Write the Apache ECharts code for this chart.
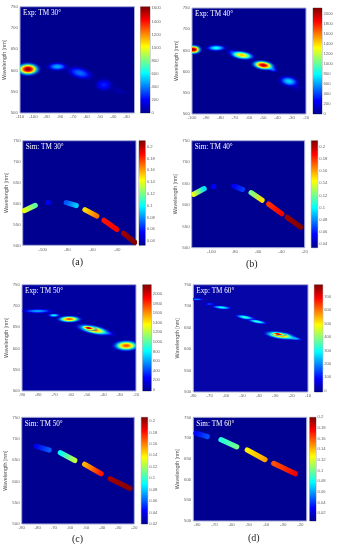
<!DOCTYPE html>
<html><head><meta charset="utf-8">
<style>html,body{margin:0;padding:0;background:#fff}#c{width:337px;height:550px;filter:blur(0.55px)}</style>
<script src="https://cdn.jsdelivr.net/npm/echarts@6/dist/echarts.min.js"></script>
</head><body><div id="c"></div>
<script>
// Experimental peaks: angle, wavelength, peak, half-extent (deg), half-extent (nm), tilt (deg)
const expA = [[-36,552,50,9,10,15],[-47,566,250,9,20,0],[-65,594,380,13,18,15],[-82,609,480,10,13,0],[-104,603,1620,11,19,0]];
const expB = [[-28,566,110,8,12,25],[-32,577,720,9,16,10],[-83,655.7,820,9,10,0],[-71,645,450,6,8,15],[-65,638.6,1450,11,13,8],[-45,608,700,7,9,20],[-50,615,2000,10,14,8],[-99,652,2110,7,14,0]];
const expC = [[-80.4,688,620,12,7,0],[-70.4,678,800,5,6,0],[-61,669,1750,9,10,0],[-39,637,520,8,7,10],[-46,644,1700,13,13,12],[-49,648,2150,6,7,10],[-26,606.6,1750,10,16,0]];
const expD = [[-78,716,200,6,4,0],[-70,705,150,5,4,0],[-62.7,697,300,8,6,5],[-48.4,674,330,8,7,10],[-41,664,330,8,6,10],[-20,626,380,8,6,8],[-27,632,600,12,11,8],[-28.3,635,785,6,5,8]];
// Simulated bands: start angle, wavelength, value, end angle, wavelength, value
const simA = [[-114.7,582.8,.14,-105.9,595.5,.115],[-95.9,602,.05,-95.2,602.5,.05],[-81,602,.07,-73,595,.09],[-66,585,.15,-56.5,570,.168],[-50.7,559.7,.185,-40.5,538,.19],[-35,528.7,.205,-26,507,.21]];
const simB = [[-115.4,624.6,.14,-106.3,638,.095],[-98.4,643,.055,-98,643,.055],[-80.6,644,.055,-73.4,636,.065],[-66,628.5,.12,-56.6,611,.15],[-50.9,602,.18,-39.7,579.4,.19],[-35,571,.205,-23.4,548,.21]];
const simC = [[-81,682,.04,-73,673.4,.06],[-66,667,.09,-57,649,.125],[-50.9,640,.15,-40.6,618,.18],[-35,606,.2,-22.7,583.4,.205]];
const simD = [[-80.8,711.6,.03,-74.2,703.5,.045],[-66.2,696,.085,-57,679,.1],[-50.9,671,.13,-40.6,648,.145],[-35.5,639,.16,-23,614,.178]];
// Tick labels
const wavelengthTicks = [500,550,600,650,700,750];
const xTicksExpA = [-110,-100,-90,-80,-70,-60,-50,-40,-30];
const xTicksExpB = [-100,-90,-80,-70,-60,-50,-40,-30,-20];
const xTicksSimA = [-100,-80,-60,-40];
const xTicksSimB = [-100,-80,-60,-40,-20];
const xTicksExpC = [-90,-80,-70,-60,-50,-40,-30,-20];
const xTicksExpD = [-80,-70,-60,-50,-40,-30,-20,-10];
const xTicksSimD = [-80,-70,-60,-50,-40,-30,-20];
const cbExpA = [0,200,400,600,800,1000,1200,1400,1600];
const cbExpB = [0,200,400,600,800,1000,1200,1400,1600,1800,2000];
const cbExpD = [0,100,200,300,400,500,600,700];
const cbSimAB = [.04,.06,.08,.1,.12,.14,.16,.18,.2];
const cbSimCD = [.02,.04,.06,.08,.1,.12,.14,.16,.18,.2];
const captions = ['(a)','(b)','(c)','(d)'];

const panels = [
 {t:'Exp: TM 30°',d:expA,sim:0,g:[20,6.7,134.5,113],cb:[140.5,150],xr:[-110,-24],xt:xTicksExpA,vr:[0,1625],vt:cbExpA,bg:'#00008f'},
 {t:'Exp: TM 40°',d:expB,sim:0,g:[192,8,306,114],cb:[313,322],xr:[-100,-20],xt:xTicksExpB,vr:[0,2120],vt:cbExpB,bg:'#00008f'},
 {t:'Sim: TM 30°',d:simA,sim:1,g:[22.7,140.7,136,245.3],cb:[139,145.3],xr:[-116,-25],xt:xTicksSimA,vr:[.0327,.21],vt:cbSimAB,bg:'#000090'},
 {t:'Sim: TM 40°',d:simB,sim:1,g:[191.7,140.7,304.7,247.7],cb:[311.3,317.7],xr:[-117,-20],xt:xTicksSimB,vr:[.034,.21],vt:cbSimAB,bg:'#000090'},
 {t:'Exp: TM 50°',d:expC,sim:0,g:[22,284.7,136,391],cb:[142.7,151.3],xr:[-90,-20],xt:xTicksExpC,vr:[-30,2196],vt:cbExpB,bg:'#0000a0'},
 {t:'Exp: TM 60°',d:expD,sim:0,g:[193.3,284.7,308,392],cb:[314.3,322.7],xr:[-80,-10],xt:xTicksExpD,vr:[-10,790],vt:cbExpD,bg:'#0505a8'},
 {t:'Sim: TM 50°',d:simC,sim:1,g:[21.7,417.3,134.3,524],cb:[141.3,147.7],xr:[-90,-20],xt:xTicksExpC,vr:[.02,.2064],vt:cbSimCD,bg:'#000090'},
 {t:'Sim: TM 60°',d:simD,sim:1,g:[193.3,417.3,306.7,521],cb:[309.7,316],xr:[-82.3,-16.3],xt:xTicksSimD,vr:[.0056,.2],vt:cbSimCD,bg:'#000090'}
];
const captionPos = [[72,257],[246,259],[72,534],[248,533]];

const jetRamp = [[0,0,0,143],[.125,0,0,255],[.375,0,255,255],[.625,255,255,0],[.875,255,0,0],[1,128,0,0]];
function jet(t,a){
  t=Math.max(0,Math.min(1,t));
  let i=0; while(i<jetRamp.length-2 && t>jetRamp[i+1][0]) i++;
  const p=jetRamp[i],q=jetRamp[i+1],f=(t-p[0])/(q[0]-p[0]);
  const m=k=>Math.round(p[k]+(q[k]-p[k])*f);
  return `rgba(${m(1)},${m(2)},${m(3)},${a==null?1:a})`;
}
const labelCol='#666', frame='#a9aed6';
const grid=[],xAxis=[],yAxis=[],series=[],title=[];
panels.forEach((p,i)=>{
  const gi=grid.length, [l,tp,r,b]=p.g, [v0,v1]=p.vr, norm=v=>(v-v0)/(v1-v0);
  grid.push({left:l,top:tp,width:r-l,height:b-tp,show:true,backgroundColor:p.bg,borderColor:frame,borderWidth:1,containLabel:false});
  xAxis.push({gridIndex:gi,type:'value',min:p.xr[0],max:p.xr[1],splitLine:{show:false},axisLine:{show:false},
    axisTick:{show:false,customValues:p.xt},axisLabel:{customValues:p.xt,fontSize:4.4,color:labelCol,margin:2,fontFamily:'Liberation Sans',hideOverlap:false}});
  yAxis.push({gridIndex:gi,type:'value',min:500,max:750,splitLine:{show:false},axisLine:{show:false},
    axisTick:{show:false,customValues:wavelengthTicks},
    axisLabel:{customValues:wavelengthTicks,fontSize:4.4,color:labelCol,margin:2,fontFamily:'Liberation Sans'},
    name:'Wavelength [nm]',nameLocation:'middle',nameGap:9,nameTextStyle:{fontSize:5.4,color:'#555',fontFamily:'Liberation Sans'}});
  const render=p.sim?(params,api)=>{
    const a=api.coord([api.value(0),api.value(1)]),c=api.coord([api.value(3),api.value(4)]);
    return {type:'line',shape:{x1:a[0],y1:a[1],x2:c[0],y2:c[1]},
      style:{fill:null,lineWidth:5.2,lineCap:'round',stroke:{type:'linear',global:true,x:a[0],y:a[1],x2:c[0]+.01,y2:c[1]+.01,
        colorStops:[{offset:0,color:jet(norm(api.value(2)))},{offset:1,color:jet(norm(api.value(5)))}]}}};
  }:(params,api)=>{
    const c=api.coord([api.value(0),api.value(1)]),s=api.size([api.value(3),api.value(4)]),pk=api.value(2),stops=[];
    for(let k=0;k<=20;k++){const q=k/20;stops.push({offset:q,color:jet(norm(pk*Math.exp(-2.4*q*q)),Math.min(1,(1-q)/.55))});}
    return {type:'circle',x:c[0],y:c[1],scaleX:s[0],scaleY:s[1],rotation:-api.value(5)*Math.PI/180,shape:{cx:0,cy:0,r:1},
      style:{fill:{type:'radial',x:.5,y:.5,r:.5,colorStops:stops}}};
  };
  series.push({type:'custom',xAxisIndex:gi,yAxisIndex:gi,clip:true,silent:true,data:p.d,renderItem:render,
    encode:p.sim?{x:[0,3],y:[1,4]}:{x:0,y:1},animation:false});
  // colour bar
  const ci=grid.length;
  grid.push({left:p.cb[0],top:tp,width:p.cb[1]-p.cb[0],height:b-tp,show:true,borderColor:'#777',borderWidth:.6,backgroundColor:'transparent'});
  xAxis.push({gridIndex:ci,type:'value',min:0,max:1,show:false});
  yAxis.push({gridIndex:ci,type:'value',position:'right',min:v0,max:v1,splitLine:{show:false},axisLine:{show:false},
    axisTick:{show:false,customValues:p.vt},axisLabel:{customValues:p.vt,fontSize:4.2,color:labelCol,margin:1.5,fontFamily:'Liberation Sans',formatter:v=>String(v)}});
  series.push({type:'custom',xAxisIndex:ci,yAxisIndex:ci,silent:true,animation:false,data:[[0,v0,1,v1]],encode:{x:[0,2],y:[1,3]},
    renderItem:(params,api)=>{
      const a=api.coord([api.value(0),api.value(1)]),c=api.coord([api.value(2),api.value(3)]);
      return {type:'rect',shape:{x:a[0],y:c[1],width:c[0]-a[0],height:a[1]-c[1]},
        style:{fill:{type:'linear',x:0,y:1,x2:0,y2:0,colorStops:jetRamp.map(s=>({offset:s[0],color:`rgb(${s[1]},${s[2]},${s[3]})`}))}}};
    }});
  title.push({text:p.t,left:l+3,top:tp+3,padding:0,textStyle:{color:'#fff',fontSize:7.2,fontWeight:'normal',fontFamily:'Liberation Serif'}});
});
captions.forEach((c,i)=>title.push({text:c,left:captionPos[i][0],top:captionPos[i][1],padding:0,textStyle:{color:'#222',fontSize:10,fontWeight:'normal',fontFamily:'Liberation Serif'}}));
const chart=echarts.init(document.getElementById('c'),null,{renderer:'canvas'});
chart.setOption({animation:false,backgroundColor:'#fff',title,grid,xAxis,yAxis,series});
</script></body></html>
